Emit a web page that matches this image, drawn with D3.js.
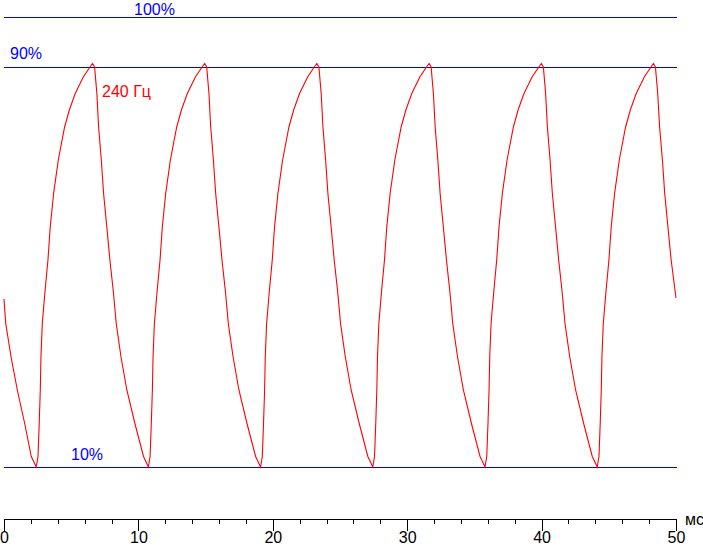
<!DOCTYPE html>
<html>
<head>
<meta charset="utf-8">
<script src="https://cdn.jsdelivr.net/npm/d3@7"></script>
<style>
  html, body { margin: 0; padding: 0; background: #fff; }
  svg { display: block; }
  text { font-family: "Liberation Sans", Arial, sans-serif; font-size: 16px; }
</style>
</head>
<body>
<svg id="chart" width="703" height="547"></svg>
<script>
// ---- data ----
const timesMs = [
  0, 0.13, 0.52, 0.99, 1.54, 2.03,
  2.40, 2.53, 2.62, 2.70, 2.75, 2.85, 3.06, 3.27, 3.44, 3.69, 4.04, 4.51, 4.86, 5.30, 5.90, 6.40, 6.59,
  6.74, 6.91, 7.04, 7.24, 7.41, 7.65, 7.88, 8.15, 8.35, 8.70, 9.14, 9.74, 10.38,
  10.74, 10.87, 10.96, 11.04, 11.09, 11.19, 11.40, 11.61, 11.78, 12.03, 12.38, 12.85, 13.20, 13.64, 14.24, 14.74, 14.93,
  15.08, 15.25, 15.38, 15.58, 15.75, 15.99, 16.22, 16.49, 16.69, 17.04, 17.48, 18.08, 18.72,
  19.09, 19.22, 19.31, 19.39, 19.44, 19.54, 19.75, 19.96, 20.13, 20.38, 20.73, 21.20, 21.55, 21.99, 22.59, 23.09, 23.28,
  23.43, 23.60, 23.73, 23.93, 24.10, 24.34, 24.57, 24.84, 25.04, 25.39, 25.83, 26.43, 27.07,
  27.44, 27.57, 27.66, 27.74, 27.79, 27.89, 28.10, 28.31, 28.48, 28.73, 29.08, 29.55, 29.90, 30.34, 30.94, 31.44, 31.63,
  31.78, 31.95, 32.08, 32.28, 32.45, 32.69, 32.92, 33.19, 33.39, 33.74, 34.18, 34.78, 35.42,
  35.79, 35.92, 36.01, 36.09, 36.14, 36.24, 36.45, 36.66, 36.83, 37.08, 37.43, 37.90, 38.25, 38.69, 39.29, 39.79, 39.98,
  40.13, 40.30, 40.43, 40.63, 40.80, 41.04, 41.27, 41.54, 41.74, 42.09, 42.53, 43.13, 43.77,
  44.14, 44.27, 44.36, 44.44, 44.49, 44.59, 44.80, 45.01, 45.18, 45.43, 45.78, 46.25, 46.60, 47.04, 47.64, 48.14, 48.32,
  48.47, 48.64, 48.78, 48.99, 49.16, 49.40, 49.64, 50.0
];
const responsePct = [
  43.6, 38.7, 32.1, 25.4, 18.7, 12.1,
  10, 12.1, 18.7, 25.4, 32.1, 38.7, 45.4, 51.4, 58, 64.7, 71.4, 78, 81.4, 84.7, 88, 90, 90.7,
  90, 84.7, 78, 71.4, 64.7, 58, 51.4, 44.7, 38.7, 32.1, 25.4, 18.7, 12.1,
  10, 12.1, 18.7, 25.4, 32.1, 38.7, 45.4, 51.4, 58, 64.7, 71.4, 78, 81.4, 84.7, 88, 90, 90.7,
  90, 84.7, 78, 71.4, 64.7, 58, 51.4, 44.7, 38.7, 32.1, 25.4, 18.7, 12.1,
  10, 12.1, 18.7, 25.4, 32.1, 38.7, 45.4, 51.4, 58, 64.7, 71.4, 78, 81.4, 84.7, 88, 90, 90.7,
  90, 84.7, 78, 71.4, 64.7, 58, 51.4, 44.7, 38.7, 32.1, 25.4, 18.7, 12.1,
  10, 12.1, 18.7, 25.4, 32.1, 38.7, 45.4, 51.4, 58, 64.7, 71.4, 78, 81.4, 84.7, 88, 90, 90.7,
  90, 84.7, 78, 71.4, 64.7, 58, 51.4, 44.7, 38.7, 32.1, 25.4, 18.7, 12.1,
  10, 12.1, 18.7, 25.4, 32.1, 38.7, 45.4, 51.4, 58, 64.7, 71.4, 78, 81.4, 84.7, 88, 90, 90.7,
  90, 84.7, 78, 71.4, 64.7, 58, 51.4, 44.7, 38.7, 32.1, 25.4, 18.7, 12.1,
  10, 12.1, 18.7, 25.4, 32.1, 38.7, 45.4, 51.4, 58, 64.7, 71.4, 78, 81.4, 84.7, 88, 90, 90.7,
  90, 84.7, 78, 71.4, 64.7, 58, 51.4, 43.8
];
const refLevels = [100, 90, 10];
const refLabels = ["100%", "90%", "10%"];
const majorTicks = [0, 10, 20, 30, 40, 50];
const minorTicks = [2, 4, 6, 8, 12, 14, 16, 18, 22, 24, 26, 28, 32, 34, 36, 38, 42, 44, 46, 48];
const seriesLabel = "240 Гц";
const unitLabel = "мс";

// ---- drawing ----
const svg = d3.select("#chart");
const x = d3.scaleLinear().domain([0, 50]).range([4, 676]);
const y = d3.scaleLinear().domain([0, 100]).range([517, 17]);
const axisY = 519;

// reference lines (drawn as 1px-high filled bands for a crisp pure-blue row)
svg.append("g").attr("class", "ref-lines").selectAll("rect").data(refLevels).join("rect")
  .attr("x", x(0)).attr("width", x(50) - x(0) + 1)
  .attr("y", d => Math.round(y(d))).attr("height", 1)
  .style("fill", "#0000ff").style("stroke", "none");

// reference labels
const labelPos = [{dx: 134, dy: 14.5}, {dx: 10, dy: 59}, {dx: 71, dy: 460}];
svg.append("g").selectAll("text").data(refLabels).join("text")
  .attr("x", (d, i) => labelPos[i].dx)
  .attr("y", (d, i) => labelPos[i].dy)
  .style("fill", "#0000ff")
  .text(d => d);

// curve
const pts = timesMs.map((t, i) => [t, responsePct[i]]);
svg.append("path")
  .datum(pts)
  .attr("fill", "none")
  .style("stroke", "#ff0000")
  .style("stroke-width", "1.1px")
  .attr("d", d3.line().x(d => x(d[0])).y(d => y(d[1])).curve(d3.curveLinear));

svg.append("text")
  .attr("x", 102).attr("y", 96.5)
  .style("fill", "#ff0000")
  .text(seriesLabel);

// axis
const gMajor = svg.append("g")
  .attr("transform", `translate(0,${axisY})`)
  .attr("shape-rendering", "crispEdges")
  .call(d3.axisBottom(x).tickValues(majorTicks).tickSize(12).tickPadding(1).tickFormat(d3.format("d")));
gMajor.select(".domain").attr("d", `M${x(0) + 0.5},0.5H${x(50) + 0.5}`).attr("stroke", "#000");
gMajor.selectAll("line").attr("stroke", "#000");
gMajor.selectAll("text")
  .attr("fill", "#000")
  .style("font-family", '"Liberation Sans", Arial, sans-serif')
  .style("font-size", "16px");

const gMinor = svg.append("g")
  .attr("transform", `translate(0,${axisY})`)
  .attr("shape-rendering", "crispEdges")
  .call(d3.axisBottom(x).tickValues(minorTicks).tickSize(5).tickFormat(""));
gMinor.select(".domain").remove();
gMinor.selectAll("line").attr("stroke", "#000");

svg.append("text")
  .attr("x", 685).attr("y", 525)
  .style("fill", "#000")
  .text(unitLabel);
</script>
</body>
</html>
